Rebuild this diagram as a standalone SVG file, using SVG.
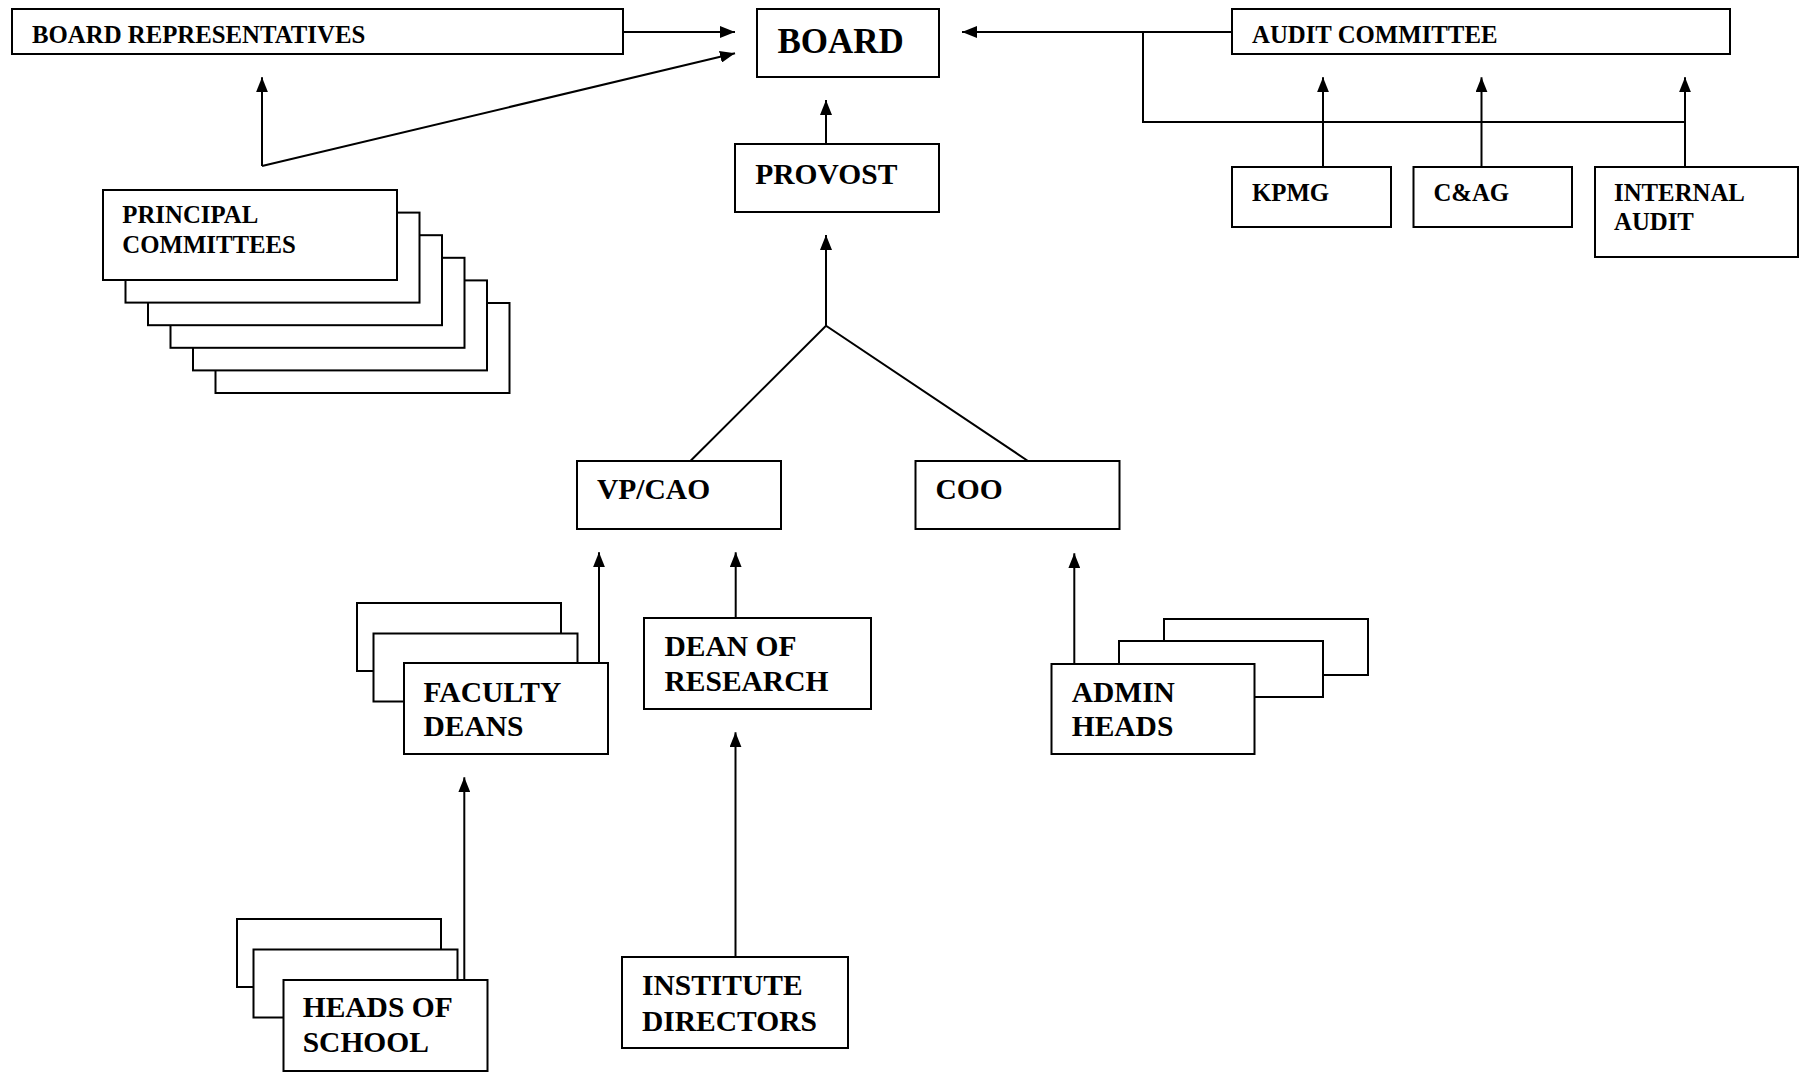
<svg xmlns="http://www.w3.org/2000/svg" width="1805" height="1074" viewBox="0 0 1805 1074">
<style>
.box{fill:#fff;stroke:#000;stroke-width:2}
.t{font-family:"Liberation Serif","Times New Roman",serif;font-weight:bold;fill:#000}
.s{font-size:24.8px}
.m{font-size:29.5px}
.l{font-size:35px}
.c{fill:none;stroke:#000;stroke-width:2}
.a{marker-end:url(#arr)}
</style>
<defs>
<marker id="arr" markerUnits="userSpaceOnUse" markerWidth="16" markerHeight="12" refX="15" refY="6" orient="auto">
<path d="M0,0 L15,6 L0,12 z" fill="#000"/>
</marker>
</defs>
<rect width="1805" height="1074" fill="#fff"/>
<g id="connectors">
<path class="c a" d="M623,32 L735,32"/>
<path class="c a" d="M262,166 L735,53.3"/>
<path class="c a" d="M262,166 L262,77.3"/>
<path class="c a" d="M826,144 L826,100"/>
<path class="c a" d="M826,325.7 L826,235"/>
<path class="c" d="M690.4,461 L826,325.7 L1028,461"/>
<path class="c a" d="M1232,32 L962,32"/>
<path class="c" d="M1143,32 L1143,122 L1685,122"/>
<path class="c a" d="M1323,167 L1323,77.3"/>
<path class="c a" d="M1481.5,167 L1481.5,77.3"/>
<path class="c a" d="M1685,167 L1685,77.3"/>
<path class="c a" d="M599,663 L599,552.3"/>
<path class="c a" d="M735.7,618 L735.7,552.3"/>
<path class="c a" d="M1074.3,664 L1074.3,553.3"/>
<path class="c a" d="M464.3,980 L464.3,777.3"/>
<path class="c a" d="M735.5,957 L735.5,732.3"/>
</g>
<g id="board-representatives">
<rect class="box" x="12" y="9" width="611" height="45"/>
<text class="t s" x="32" y="42.7">BOARD REPRESENTATIVES</text>
</g>
<g id="board">
<rect class="box" x="757" y="9" width="182" height="68"/>
<text class="t l" x="777.5" y="52.6">BOARD</text>
</g>
<g id="audit-committee">
<rect class="box" x="1232" y="9" width="498" height="45"/>
<text class="t s" x="1252" y="42.7">AUDIT COMMITTEE</text>
</g>
<g id="provost">
<rect class="box" x="735" y="144" width="204" height="68"/>
<text class="t m" x="755.3" y="184.3">PROVOST</text>
</g>
<g id="kpmg">
<rect class="box" x="1232" y="167" width="159" height="60"/>
<text class="t s" x="1252" y="201">KPMG</text>
</g>
<g id="cag">
<rect class="box" x="1413.5" y="167" width="158.5" height="60"/>
<text class="t s" x="1433.4" y="201">C&amp;AG</text>
</g>
<g id="internal-audit">
<rect class="box" x="1595" y="167" width="203" height="90"/>
<text class="t s" x="1614" y="201">INTERNAL</text>
<text class="t s" x="1614" y="230">AUDIT</text>
</g>
<g id="principal-committees">
<rect class="box" x="215.5" y="303" width="294" height="90"/>
<rect class="box" x="193" y="280.4" width="294" height="90"/>
<rect class="box" x="170.5" y="257.8" width="294" height="90"/>
<rect class="box" x="148" y="235.2" width="294" height="90"/>
<rect class="box" x="125.5" y="212.6" width="294" height="90"/>
<rect class="box" x="103" y="190" width="294" height="90"/>
<text class="t s" x="122.3" y="223.3">PRINCIPAL</text>
<text class="t s" x="122.3" y="253.3">COMMITTEES</text>
</g>
<g id="vp-cao">
<rect class="box" x="577" y="461" width="204" height="68"/>
<text class="t m" x="597" y="499.3">VP/CAO</text>
</g>
<g id="coo">
<rect class="box" x="915.5" y="461" width="204" height="68"/>
<text class="t m" x="935.5" y="499.3">COO</text>
</g>
<g id="faculty-deans">
<rect class="box" x="357" y="603" width="204" height="68"/>
<rect class="box" x="373.5" y="633.5" width="204" height="68"/>
<rect class="box" x="404" y="663" width="204" height="91"/>
<text class="t m" x="423.5" y="701.7">FACULTY</text>
<text class="t m" x="423.5" y="736">DEANS</text>
</g>
<g id="dean-of-research">
<rect class="box" x="644" y="618" width="227" height="91"/>
<text class="t m" x="664.5" y="656">DEAN OF</text>
<text class="t m" x="664.5" y="690.7">RESEARCH</text>
</g>
<g id="admin-heads">
<rect class="box" x="1164" y="619" width="204" height="56"/>
<rect class="box" x="1119" y="641" width="204" height="56"/>
<rect class="box" x="1051.5" y="664" width="203" height="90"/>
<text class="t m" x="1071.7" y="701.7">ADMIN</text>
<text class="t m" x="1071.7" y="736">HEADS</text>
</g>
<g id="heads-of-school">
<rect class="box" x="237" y="919" width="204" height="68"/>
<rect class="box" x="253.5" y="949.5" width="204" height="68"/>
<rect class="box" x="283.5" y="980" width="204" height="91"/>
<text class="t m" x="302.7" y="1016.7">HEADS OF</text>
<text class="t m" x="302.7" y="1052.3">SCHOOL</text>
</g>
<g id="institute-directors">
<rect class="box" x="622" y="957" width="226" height="91"/>
<text class="t m" x="642" y="995">INSTITUTE</text>
<text class="t m" x="642" y="1030.7">DIRECTORS</text>
</g>
</svg>
